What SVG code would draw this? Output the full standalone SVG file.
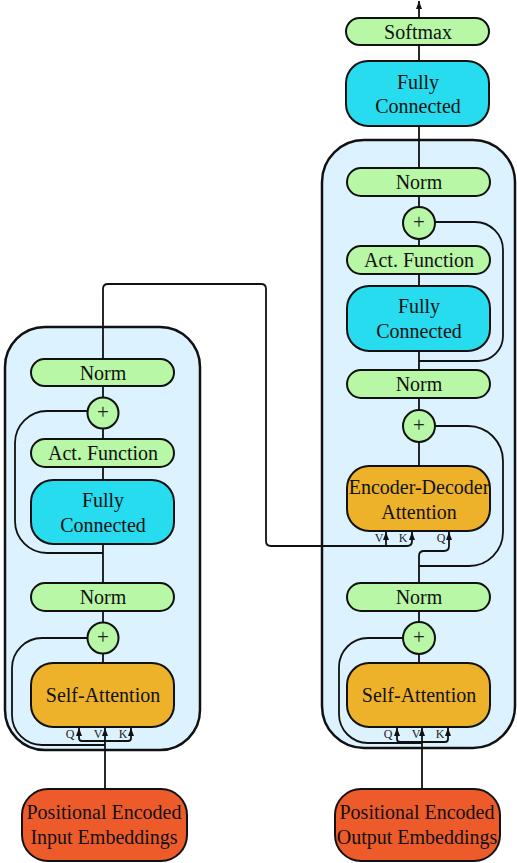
<svg xmlns="http://www.w3.org/2000/svg" width="517" height="863" viewBox="0 0 517 863">
<defs>
<marker id="ah" viewBox="0 0 8 6" refX="8" refY="3" markerWidth="8" markerHeight="6" markerUnits="userSpaceOnUse" orient="auto-start-reverse">
<path d="M0,0 L8,3 L0,6 Z" fill="#111"/>
</marker>
<style>
.blk{fill:#dcf3ff;stroke:#111;stroke-width:2.5}
.g{fill:#b7f7a6;stroke:#111;stroke-width:2}
.c{fill:#26dcee;stroke:#111;stroke-width:2}
.o{fill:#edb12a;stroke:#111;stroke-width:2}
.r{fill:#ee5b2b;stroke:#111;stroke-width:2}
.t{font-family:"Liberation Serif","Times New Roman",serif;font-size:20px;fill:#111;text-anchor:middle;dominant-baseline:central}
.p{font-family:"Liberation Serif","Times New Roman",serif;font-size:21px;fill:#222;text-anchor:middle;dominant-baseline:central}
.s{font-family:"Liberation Serif","Times New Roman",serif;font-size:12px;fill:#222;text-anchor:middle;dominant-baseline:central}
.ln{fill:none;stroke:#111;stroke-width:1.8}
</style>
</defs>
<rect fill="#fff" x="0" y="0" width="517" height="863"/>

<g id="encoder-block"><rect class="blk" x="5" y="327" width="195" height="423" rx="40"/></g>
<g id="decoder-block"><rect class="blk" x="322" y="140" width="193" height="608" rx="42"/></g>

<g id="connectors">
<!-- left column -->
<path class="ln" d="M103,359 V289 Q103,284 108,284 H261 Q266,284 266,289 V541 Q266,546 271,546 H407 Q412,546 412,541 V532" marker-end="url(#ah)"/>
<path class="ln" d="M386,546 V532" marker-end="url(#ah)"/>
<path class="ln" d="M103,386 V398 M103,429 V439 M103,467 V480 M103,544 V583 M103,611 V622 M103,654 V663"/>
<path class="ln" d="M103,553 H47 A32,32 0 0 1 15,521 V443 A32,32 0 0 1 47,411 H88"/>
<path class="ln" d="M105,745 H42 A30,30 0 0 1 12,715 V668 A30,30 0 0 1 42,638 H88"/>
<path class="ln" d="M105,789 V728" marker-end="url(#ah)"/>
<path class="ln" d="M79,728 V738 Q79,741 82,741 H128 Q131,741 131,738 V728" marker-start="url(#ah)" marker-end="url(#ah)"/>
<!-- right column -->
<path class="ln" d="M419,18 V1" marker-end="url(#ah)"/>
<path class="ln" d="M419,45 V61 M419,126 V168 M419,196 V207 M419,239 V246 M419,274 V286 M419,351 V370 M419,398 V410 M419,442 V466 M419,611 V622 M419,654 V663"/>
<path class="ln" d="M419,361 H478 A25,25 0 0 0 503,336 V250 A28,28 0 0 0 475,222 H435"/>
<path class="ln" d="M419,566 H469 A34,34 0 0 0 503,532 V461 A35,35 0 0 0 468,426 H435"/>
<path class="ln" d="M419,583 V556 Q419,551 424,551 H444 Q449,551 449,546 V532" marker-end="url(#ah)"/>
<path class="ln" d="M422,743 H368 A29,29 0 0 1 339,714 V667 A29,29 0 0 1 368,638 H403"/>
<path class="ln" d="M422,789 V728" marker-end="url(#ah)"/>
<path class="ln" d="M397,728 V739 Q397,742 400,742 H445 Q448,742 448,739 V728" marker-start="url(#ah)" marker-end="url(#ah)"/>
</g>

<!-- encoder nodes -->
<g id="enc-norm2"><rect class="g" x="31" y="359" width="143" height="27" rx="13.5"/><text class="t" x="103" y="373">Norm</text></g>
<g id="enc-add2"><circle class="g" cx="103" cy="413" r="15.5"/><text class="p" x="103" y="412">+</text></g>
<g id="enc-act"><rect class="g" x="31" y="439" width="143" height="28" rx="14"/><text class="t" x="103" y="453">Act. Function</text></g>
<g id="enc-fc"><rect class="c" x="31" y="480" width="143" height="64" rx="22"/><text class="t" x="103" y="500">Fully</text><text class="t" x="103" y="525">Connected</text></g>
<g id="enc-norm1"><rect class="g" x="31" y="583" width="143" height="28" rx="14"/><text class="t" x="103" y="597">Norm</text></g>
<g id="enc-add1"><circle class="g" cx="103" cy="638" r="15.5"/><text class="p" x="103" y="637">+</text></g>
<g id="enc-sa"><rect class="o" x="31" y="663" width="143" height="64" rx="22"/><text class="t" x="103" y="695">Self-Attention</text></g>
<g id="enc-qvk"><text class="s" x="70" y="734">Q</text><text class="s" x="98" y="734">V</text><text class="s" x="123" y="734">K</text></g>
<g id="input-emb"><rect class="r" x="22" y="789" width="165" height="72" rx="26"/><text class="t" x="104" y="812">Positional Encoded</text><text class="t" x="104" y="837">Input Embeddings</text></g>

<!-- decoder nodes -->
<g id="softmax"><rect class="g" x="346" y="18" width="143" height="27" rx="13.5"/><text class="t" x="418" y="32">Softmax</text></g>
<g id="out-fc"><rect class="c" x="346" y="61" width="143" height="65" rx="22"/><text class="t" x="418" y="82">Fully</text><text class="t" x="418" y="106">Connected</text></g>
<g id="dec-norm3"><rect class="g" x="347" y="168" width="143" height="28" rx="14"/><text class="t" x="419" y="182">Norm</text></g>
<g id="dec-add3"><circle class="g" cx="419" cy="223" r="16"/><text class="p" x="419" y="222">+</text></g>
<g id="dec-act"><rect class="g" x="347" y="246" width="143" height="28" rx="14"/><text class="t" x="419" y="260">Act. Function</text></g>
<g id="dec-fc"><rect class="c" x="347" y="286" width="143" height="65" rx="22"/><text class="t" x="419" y="306">Fully</text><text class="t" x="419" y="331">Connected</text></g>
<g id="dec-norm2"><rect class="g" x="347" y="370" width="143" height="28" rx="14"/><text class="t" x="419" y="384">Norm</text></g>
<g id="dec-add2"><circle class="g" cx="419" cy="426" r="16"/><text class="p" x="419" y="425">+</text></g>
<g id="dec-eda"><rect class="o" x="347" y="466" width="143" height="65" rx="22"/><text class="t" x="419" y="487">Encoder-Decoder</text><text class="t" x="419" y="512">Attention</text></g>
<g id="dec-eda-vkq"><text class="s" x="379" y="538">V</text><text class="s" x="403" y="538">K</text><text class="s" x="441" y="538">Q</text></g>
<g id="dec-norm1"><rect class="g" x="347" y="583" width="143" height="28" rx="14"/><text class="t" x="419" y="597">Norm</text></g>
<g id="dec-add1"><circle class="g" cx="419" cy="638" r="16"/><text class="p" x="419" y="637">+</text></g>
<g id="dec-sa"><rect class="o" x="347" y="663" width="143" height="64" rx="22"/><text class="t" x="419" y="695">Self-Attention</text></g>
<g id="dec-qvk"><text class="s" x="388" y="734">Q</text><text class="s" x="416" y="734">V</text><text class="s" x="440" y="734">K</text></g>
<g id="output-emb"><rect class="r" x="335" y="789" width="165" height="72" rx="26"/><text class="t" x="417" y="812">Positional Encoded</text><text class="t" x="417" y="837">Output Embeddings</text></g>
</svg>
